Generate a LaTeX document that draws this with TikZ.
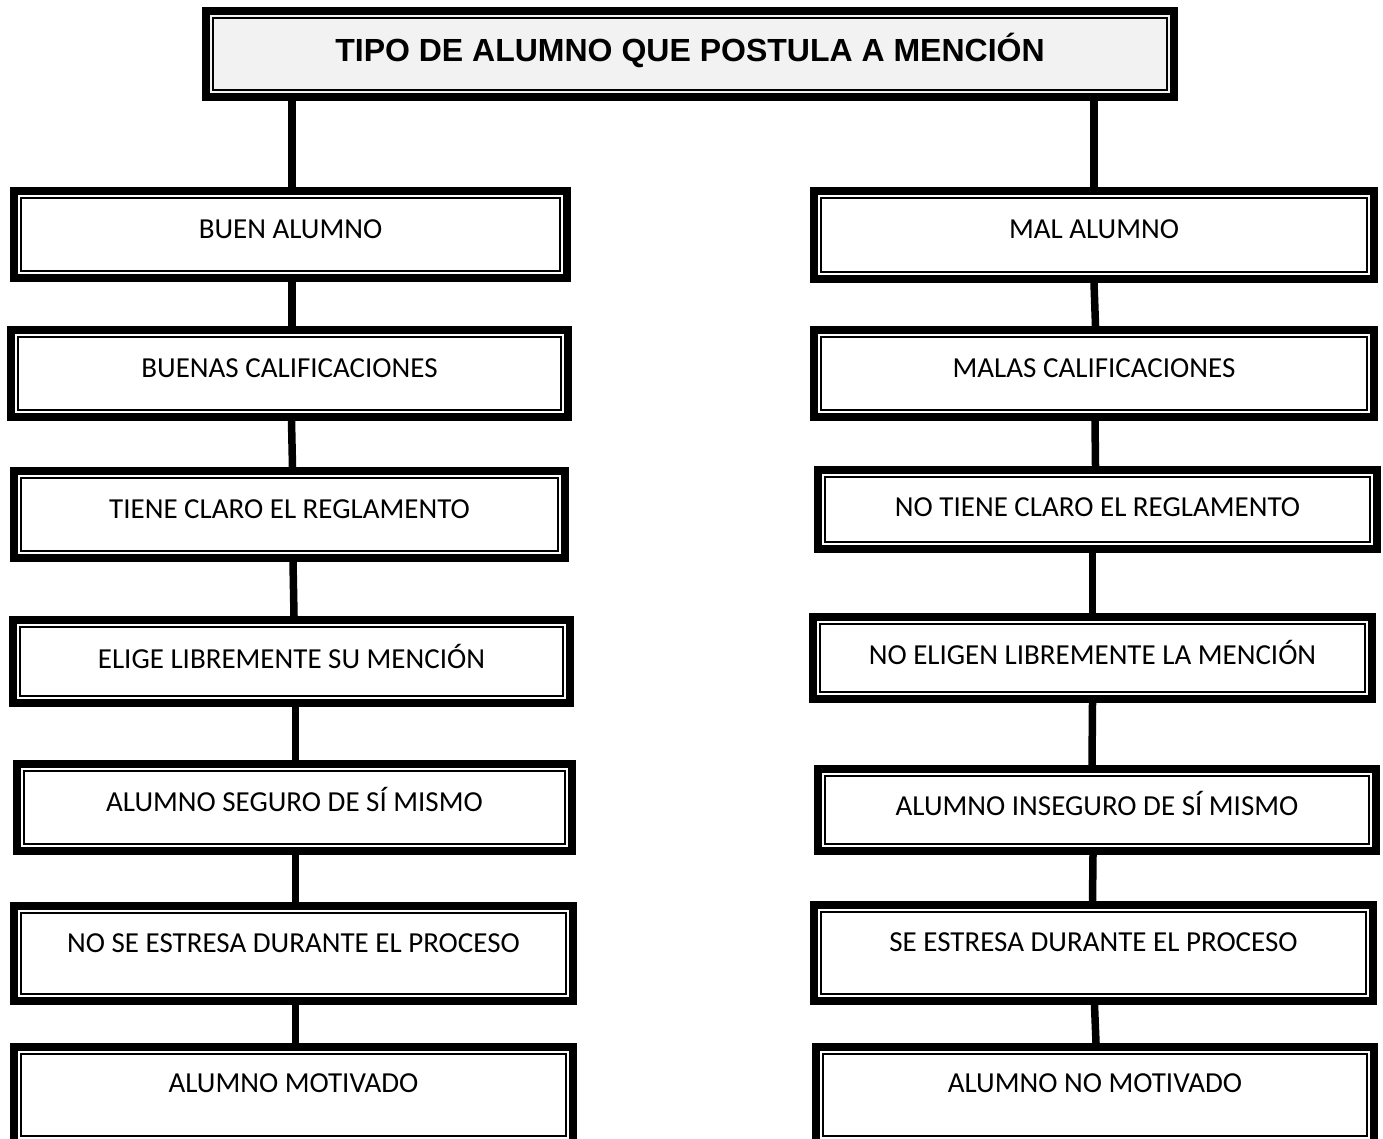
\documentclass[tikz,border=0pt]{standalone}
\usepackage{fontspec}
\newfontfamily\boxfont{Carlito}
\newfontfamily\titlefont{Liberation Sans}
\begin{document}
\begin{tikzpicture}[x=1pt,y=-1pt,
  dbox/.style={draw=black, line width=8pt, inner sep=0pt, outer sep=4pt, fill=white,
    path picture={\draw[line width=2.2pt]
      ([shift={(7pt,-7pt)}]path picture bounding box.north west) rectangle
      ([shift={(-7pt,7pt)}]path picture bounding box.south east);}},
  boxtext/.style={font=\boxfont\fontsize{29}{34}\selectfont, text height=18.7pt, text depth=0pt, inner sep=0pt},
  conn/.style={line width=7.5pt, line cap=butt}]
\useasboundingbox (0,0) rectangle (1383,1139);
% title
\node[dbox, fill={rgb,255:red,242;green,242;blue,242}, minimum width=968pt, minimum height=86pt,
  label={[name=Ttext, anchor=center, yshift=-43pt, font=\titlefont\bfseries\fontsize{32}{38}\selectfont, text height=23pt, text depth=0pt, inner sep=0pt]north:TIPO DE ALUMNO QUE POSTULA A MENCIÓN}]
  (T) at (690,54) {};
% left column
\node[dbox, minimum width=553pt, minimum height=87pt, label={[name=tL1, boxtext, anchor=center, yshift=-42pt]north:BUEN ALUMNO}] (L1) at (290.5,234.5) {};
\node[dbox, minimum width=557pt, minimum height=87pt, label={[name=tL2, boxtext, anchor=center, yshift=-42pt]north:BUENAS CALIFICACIONES}] (L2) at (289.5,373.5) {};
\node[dbox, minimum width=551pt, minimum height=87pt, label={[name=tL3, boxtext, anchor=center, yshift=-42pt]north:TIENE CLARO EL REGLAMENTO}] (L3) at (289.5,514.5) {};
\node[dbox, minimum width=557pt, minimum height=83pt, label={[name=tL4, boxtext, anchor=center, yshift=-43pt]north:ELIGE LIBREMENTE SU MENCIÓN}] (L4) at (291.5,661.5) {};
\node[dbox, minimum width=555pt, minimum height=87pt, label={[name=tL5, boxtext, anchor=center, yshift=-42pt]north:ALUMNO SEGURO DE SÍ MISMO}] (L5) at (294.5,807.5) {};
\node[dbox, minimum width=559pt, minimum height=95pt, label={[name=tL6, boxtext, anchor=center, yshift=-41pt]north:NO SE ESTRESA DURANTE EL PROCESO}] (L6) at (293.5,953.5) {};
\node[dbox, minimum width=559pt, minimum height=96pt, label={[name=tL7, boxtext, anchor=center, yshift=-40pt]north:ALUMNO MOTIVADO}] (L7) at (293.5,1095) {};
% right column
\node[dbox, minimum width=560pt, minimum height=88pt, label={[name=tR1, boxtext, anchor=center, yshift=-42pt]north:MAL ALUMNO}] (R1) at (1094,235) {};
\node[dbox, minimum width=560pt, minimum height=87pt, label={[name=tR2, boxtext, anchor=center, yshift=-42pt]north:MALAS CALIFICACIONES}] (R2) at (1094,373.5) {};
\node[dbox, minimum width=559pt, minimum height=79pt, label={[name=tR3, boxtext, anchor=center, yshift=-41pt]north:NO TIENE CLARO EL REGLAMENTO}] (R3) at (1097.5,509.5) {};
\node[dbox, minimum width=559pt, minimum height=82pt, label={[name=tR4, boxtext, anchor=center, yshift=-42pt]north:NO ELIGEN LIBREMENTE LA MENCIÓN}] (R4) at (1092.5,658) {};
\node[dbox, minimum width=558pt, minimum height=82pt, label={[name=tR5, boxtext, anchor=center, yshift=-41pt]north:ALUMNO INSEGURO DE SÍ MISMO}] (R5) at (1097,810) {};
\node[dbox, minimum width=559pt, minimum height=96pt, label={[name=tR6, boxtext, anchor=center, yshift=-41pt]north:SE ESTRESA DURANTE EL PROCESO}] (R6) at (1093.5,953) {};
\node[dbox, minimum width=558pt, minimum height=96pt, label={[name=tR7, boxtext, anchor=center, yshift=-40pt]north:ALUMNO NO MOTIVADO}] (R7) at (1095,1095) {};
% connectors
\draw[conn] ([xshift=1.5pt]L1.north |- T.south) -- ([xshift=1.5pt]L1.north);
\draw[conn] (R1.north |- T.south) -- (R1.north);
\draw[conn] ([xshift=1.5pt]L1.south) -- ([xshift=2.5pt]L2.north);
\draw[conn] ([xshift=2pt]L2.south) -- ([xshift=3pt]L3.north);
\draw[conn] ([xshift=3.5pt]L3.south) -- ([xshift=2.5pt]L4.north);
\draw[conn] ([xshift=4pt]L4.south) -- ([xshift=1pt]L5.north);
\draw[conn] ([xshift=1pt]L5.south) -- ([xshift=2pt]L6.north);
\draw[conn] ([xshift=2pt]L6.south) -- ([xshift=2pt]L7.north);
\draw[conn] (R1.south) -- ([xshift=1.5pt]R2.north);
\draw[conn] ([xshift=1pt]R2.south) -- ([xshift=-2pt]R3.north);
\draw[conn] ([xshift=-5pt]R3.south) -- ([xshift=0pt]R4.north);
\draw[conn] ([xshift=0pt]R4.south) -- ([xshift=-5pt]R5.north);
\draw[conn] ([xshift=-4pt]R5.south) -- ([xshift=-1pt]R6.north);
\draw[conn] ([xshift=1pt]R6.south) -- ([xshift=1pt]R7.north);
\end{tikzpicture}
\end{document}
